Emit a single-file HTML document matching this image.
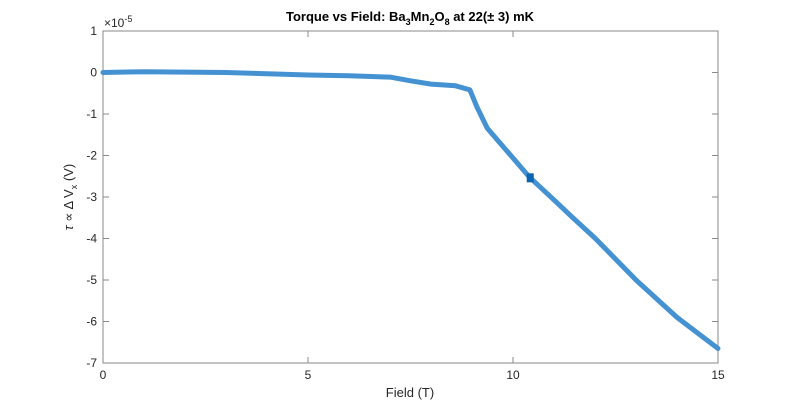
<!DOCTYPE html>
<html><head><meta charset="utf-8"><style>
body{margin:0;background:#fff}
svg{display:block;font-family:"Liberation Sans",sans-serif}
</style></head><body>
<svg id="chart" width="792" height="409" viewBox="0 0 792 409" xmlns="http://www.w3.org/2000/svg">
<rect width="792" height="409" fill="#fff"/>
<g id="plot"></g>
<text x="410" y="21" text-anchor="middle" font-size="13" font-weight="bold" fill="#000">Torque vs Field: Ba<tspan font-size="9" dy="4">3</tspan><tspan dy="-4">Mn</tspan><tspan font-size="9" dy="4">2</tspan><tspan dy="-4">O</tspan><tspan font-size="9" dy="4">8</tspan><tspan dy="-4"> at 22(± 3) mK</tspan></text>
<text x="410" y="397" text-anchor="middle" font-size="13" fill="#262626">Field (T)</text>
<text transform="translate(73,197) rotate(-90)" text-anchor="middle" font-size="13" fill="#262626"><tspan font-style="italic">τ</tspan> ∝ Δ V<tspan font-size="9" dy="4">x</tspan><tspan dy="-4"> (V)</tspan></text>
<text x="104" y="27" font-size="12" fill="#262626">×10<tspan font-size="9" dy="-5">-5</tspan></text>
</svg>
<script>
const xTicks=[0,5,10,15];
const yTicks=[1,0,-1,-2,-3,-4,-5,-6,-7];
const fieldT=[0,1,2,3,4,5,6,7,7.5,8,8.6,8.95,9.12,9.37,9.51,10,10.4,11,11.46,12,13,14,15];
const torque=[0,0.02,0.01,0,-0.03,-0.06,-0.08,-0.11,-0.2,-0.28,-0.32,-0.42,-0.83,-1.34,-1.5,-2.06,-2.52,-3.07,-3.5,-3.99,-5.0,-5.9,-6.65];
const markerX=[10.42], markerY=[-2.55];
const L=103,R=718,T=31,B=363;
const sx=v=>L+(v-0)/(15-0)*(R-L);
const sy=v=>T+(1-v)/(1-(-7))*(B-T);
const NS="http://www.w3.org/2000/svg";
const g=document.getElementById('plot');
function mk(tag,attrs){const e=document.createElementNS(NS,tag);for(const k in attrs)e.setAttribute(k,attrs[k]);g.appendChild(e);return e;}
const frame=mk('rect',{x:L,y:T,width:R-L,height:B-T,fill:'none',stroke:'#8a8a8a','stroke-width':1});


xTicks.forEach(v=>{
 const t=mk('line',{x1:sx(v),x2:sx(v),y1:B,y2:B-6,stroke:'#8a8a8a'});
 
 
 const t2=mk('line',{x1:sx(v),x2:sx(v),y1:T,y2:T+6,stroke:'#8a8a8a'});
 
 
 const lb=mk('text',{x:sx(v),y:B+16,'text-anchor':'middle','font-size':12,fill:'#262626'});
 lb.textContent=v;
 
 
});
yTicks.forEach(v=>{
 const t=mk('line',{x1:L,x2:L+6,y1:sy(v),y2:sy(v),stroke:'#8a8a8a'});
 
 
 const t2=mk('line',{x1:R,x2:R-6,y1:sy(v),y2:sy(v),stroke:'#8a8a8a'});
 
 
 const lb=mk('text',{x:L-6,y:sy(v)+4,'text-anchor':'end','font-size':12,fill:'#262626'});
 lb.textContent=v;
 
 
});
let d='';
fieldT.forEach((f,i)=>{d+=(i?'L':'M')+sx(f).toFixed(1)+' '+sy(torque[i]).toFixed(1);});
const line=mk('path',{d:d,fill:'none',stroke:'#4592d2','stroke-width':5,'stroke-linejoin':'round','stroke-linecap':'round'});


markerX.forEach((m,i)=>{
 const r=mk('rect',{x:sx(m)-3.5,y:sy(markerY[i])-5,width:7,height:9,fill:'#0a64b0'});
 
 
});
</script>
</body></html>
